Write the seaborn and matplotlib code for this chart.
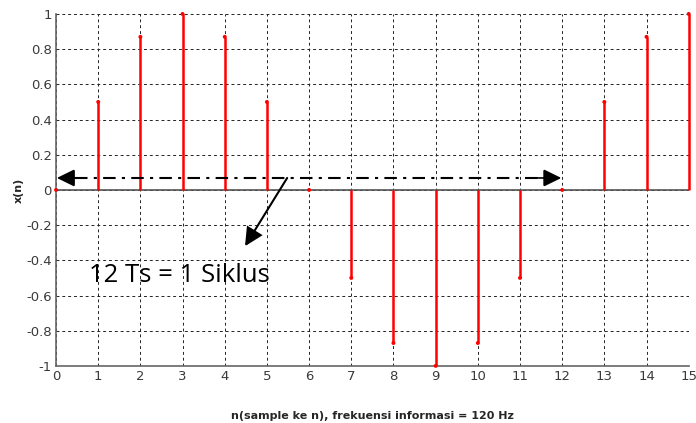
import matplotlib
matplotlib.use("Agg")
import matplotlib.pyplot as plt
import seaborn as sns
import pandas as pd

n_values = list(range(16))
x_values = [0, 0.5, 0.87, 1, 0.87, 0.5, 0, -0.5, -0.87, -1, -0.87, -0.5, 0, 0.5, 0.87, 1]
x_ticks = list(range(16))
y_ticks = [-1, -0.8, -0.6, -0.4, -0.2, 0, 0.2, 0.4, 0.6, 0.8, 1]
y_tick_labels = ["-1", "-0.8", "-0.6", "-0.4", "-0.2", "0", "0.2", "0.4", "0.6", "0.8", "1"]
annotation_text = "12 Ts = 1 Siklus"
x_label = "n(sample ke n), frekuensi informasi = 120 Hz"
y_label = "x(n)"

sns.set_theme(style="white")
plt.rcParams['font.family'] = ['DejaVu Sans']

df = pd.DataFrame({"n": n_values, "x": x_values})

fig = plt.figure(figsize=(6.96, 4.23), dpi=100)
ax = fig.add_axes([0.0805, 0.135, 0.909, 0.832])

ax.vlines(df["n"], 0, df["x"], color="#ff0000", lw=1.8, zorder=3, clip_on=False)
sns.scatterplot(data=df, x="n", y="x", ax=ax, color="#ff0000", s=8,
                edgecolor="none", zorder=4, legend=False, clip_on=False)

ax.axhline(0, color="#555555", lw=1.2, zorder=2)

ax.set_xlim(0, 15)
ax.set_ylim(-1, 1)
ax.set_xticks(x_ticks)
ax.set_xticklabels([str(t) for t in x_ticks])
ax.set_yticks(y_ticks)
ax.set_yticklabels(y_tick_labels)
ax.grid(True, color="#222222", lw=0.7, linestyle=(0, (3, 3)))
ax.set_axisbelow(True)

for s in ["top", "right"]:
    ax.spines[s].set_visible(False)
for s in ["left", "bottom"]:
    ax.spines[s].set_color("#666666")
    ax.spines[s].set_linewidth(1.2)

ax.tick_params(axis="both", colors="#444444", labelsize=9.5, length=4,
               direction="in", width=0.8, pad=3)
for lbl in ax.get_xticklabels() + ax.get_yticklabels():
    lbl.set_color("#3a3a3a")

ax.set_xlabel(x_label, fontsize=8, fontweight="bold", labelpad=20)
ax.set_ylabel(y_label, fontsize=8, fontweight="bold", labelpad=2)

arrow_y = 0.068
# dash-dot line of the double arrow
ax.plot([0.45, 11.6], [arrow_y, arrow_y], color="black", lw=1.5,
        linestyle=(0, (6, 3, 1.5, 3)), zorder=5)
head = dict(arrowstyle="-|>,head_length=0.55,head_width=0.27", color="black",
            lw=1.2, joinstyle="miter", mutation_scale=20, shrinkA=0, shrinkB=0)
# left and right heads
ax.annotate("", xy=(0.02, arrow_y), xytext=(0.6, arrow_y), arrowprops=head, zorder=6)
ax.annotate("", xy=(11.98, arrow_y), xytext=(11.4, arrow_y), arrowprops=head, zorder=6)
# diagonal pointer arrow
ax.annotate("", xy=(4.48, -0.32), xytext=(5.48, arrow_y),
            arrowprops=dict(head, lw=1.5), zorder=6)

ax.text(0.78, -0.485, annotation_text, fontsize=18.5, family="Open Sans",
        color="black", ha="left", va="center", zorder=6)

fig.savefig("out.png", dpi=100)
